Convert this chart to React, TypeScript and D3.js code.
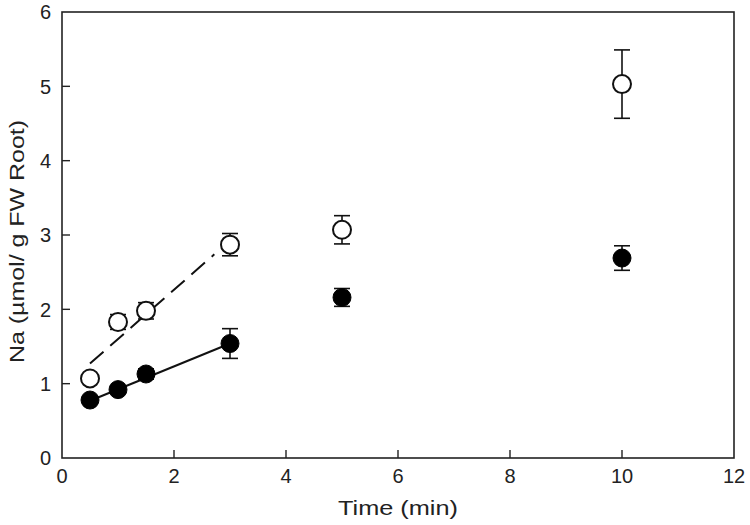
import { scaleLinear, line } from 'd3'

const times = [0.5, 1, 1.5, 3, 5, 10]
const openMeans = [1.07, 1.83, 1.98, 2.87, 3.07, 5.03]
const openErrors = [0.06, 0.1, 0.11, 0.15, 0.19, 0.46]
const filledMeans = [0.78, 0.92, 1.13, 1.54, 2.16, 2.69]
const filledErrors = [0.04, 0.05, 0.07, 0.2, 0.12, 0.165]
const openFit = [
	[0.5, 1.27],
	[2.72, 2.74],
]
const filledFit = [
	[0.5, 0.77],
	[3, 1.54],
]
const xTicks = [0, 2, 4, 6, 8, 10, 12]
const yTicks = [0, 1, 2, 3, 4, 5, 6]

export default function App() {
	const width = 750
	const height = 525
	const margin = { top: 12, right: 16, bottom: 67, left: 62 }
	const plotWidth = width - margin.left - margin.right
	const plotHeight = height - margin.top - margin.bottom

	const x = scaleLinear().domain([0, 12]).range([0, plotWidth])
	const y = scaleLinear().domain([0, 6]).range([plotHeight, 0])
	const path = line<number[]>()
		.x((d) => x(d[0]))
		.y((d) => y(d[1]))

	const font = 'Arial, "Liberation Sans", sans-serif'
	const r = 9
	const cap = 8

	const errorBar = (t: number, m: number, e: number, key: string) => (
		<g key={key} stroke="#111" strokeWidth={1.6}>
			<line x1={x(t)} x2={x(t)} y1={y(m + e)} y2={y(m - e)} />
			<line x1={x(t) - cap} x2={x(t) + cap} y1={y(m + e)} y2={y(m + e)} />
			<line x1={x(t) - cap} x2={x(t) + cap} y1={y(m - e)} y2={y(m - e)} />
		</g>
	)

	return (
		<svg
			width={width}
			height={height}
			style={{ position: 'fixed', left: 0, top: 0, background: '#fff' }}
			fontFamily={font}
		>
			<g transform={`translate(${margin.left}, ${margin.top})`}>
				<rect x={0} y={0} width={plotWidth} height={plotHeight} fill="none" stroke="#222" strokeWidth={1.6} />

				{xTicks.map((t) => (
					<g key={`x${t}`}>
						{t > 0 && t < 12 && <line x1={x(t)} x2={x(t)} y1={plotHeight} y2={plotHeight - 8} stroke="#222" strokeWidth={1.4} />}
						<text x={x(t)} y={plotHeight + 25} textAnchor="middle" fontSize={20} fill="#222">
							{t}
						</text>
					</g>
				))}
				{yTicks.map((t) => (
					<g key={`y${t}`}>
						{t > 0 && t < 6 && <line x1={0} x2={8} y1={y(t)} y2={y(t)} stroke="#222" strokeWidth={1.4} />}
						<text x={-11} y={y(t)} dy="0.36em" textAnchor="end" fontSize={20} fill="#222">
							{t}
						</text>
					</g>
				))}

				<path d={path(openFit as number[][]) ?? ''} fill="none" stroke="#111" strokeWidth={2} strokeDasharray="18,9" />
				<path d={path(filledFit as number[][]) ?? ''} fill="none" stroke="#111" strokeWidth={2} />

				{times.map((t, i) => errorBar(t, openMeans[i], openErrors[i], `oe${i}`))}
				{times.map((t, i) => errorBar(t, filledMeans[i], filledErrors[i], `fe${i}`))}

				{times.map((t, i) => (
					<circle key={`o${i}`} cx={x(t)} cy={y(openMeans[i])} r={r} fill="#fff" stroke="#111" strokeWidth={2} />
				))}
				{times.map((t, i) => (
					<circle key={`f${i}`} cx={x(t)} cy={y(filledMeans[i])} r={r} fill="#000" stroke="#000" strokeWidth={1} />
				))}

				<text
					x={plotWidth / 2}
					y={plotHeight + 57}
					textAnchor="middle"
					fontSize={21}
					fill="#222"
					textLength={120}
					lengthAdjust="spacingAndGlyphs"
				>
					Time (min)
				</text>
				<text
					transform={`translate(${-38}, ${241.5 - margin.top}) rotate(-90)`}
					textAnchor="middle"
					fontSize={21}
					fill="#222"
					textLength={243}
					lengthAdjust="spacingAndGlyphs"
				>
					Na (µmol/ g FW Root)
				</text>
			</g>
		</svg>
	)
}
